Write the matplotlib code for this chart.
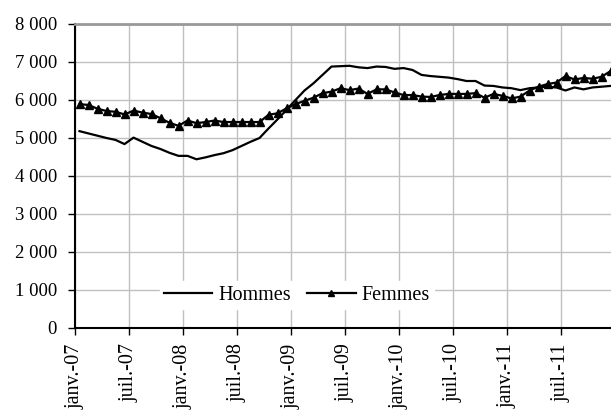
import matplotlib
matplotlib.use("Agg")
import matplotlib.pyplot as plt
from matplotlib.ticker import FuncFormatter

plt.rcParams['font.family'] = ['Liberation Serif', 'DejaVu Serif']

# monthly values, janv.-07 .. déc.-11
hommes = [5180, 5120, 5060, 5000, 4950, 4840, 5010, 4900, 4790, 4710,
          4610, 4530, 4530, 4440, 4490, 4550, 4600, 4680, 4790, 4900,
          5000, 5250, 5490, 5740, 6000, 6250, 6440, 6660, 6880, 6890,
          6900, 6860, 6840, 6880, 6870, 6820, 6840, 6790, 6660, 6630,
          6610, 6590, 6550, 6500, 6500, 6380, 6370, 6330, 6310, 6260,
          6310, 6330, 6350, 6330, 6250, 6330, 6280, 6330, 6350, 6370]
femmes = [5890, 5870, 5770, 5710, 5690, 5620, 5720, 5670, 5630, 5520,
          5400, 5320, 5460, 5390, 5420, 5460, 5420, 5420, 5420, 5420,
          5420, 5610, 5650, 5780, 5890, 5980, 6060, 6180, 6220, 6310,
          6260, 6300, 6160, 6280, 6280, 6200, 6130, 6130, 6090, 6080,
          6130, 6160, 6160, 6160, 6180, 6060, 6160, 6110, 6040, 6090,
          6250, 6350, 6420, 6460, 6630, 6540, 6580, 6560, 6610, 6760]
tick_labels = ['janv.-07', 'juil.-07', 'janv.-08', 'juil.-08', 'janv.-09',
               'juil.-09', 'janv.-10', 'juil.-10', 'janv.-11', 'juil.-11']

fig = plt.figure(figsize=(6.11, 4.18), dpi=100)
ax = fig.add_axes([75 / 611, 1 - 328 / 418, 540 / 611, 304 / 418])

x = [i + 0.5 for i in range(len(hommes))]
ax.plot(x, hommes, color='black', lw=1.6, label='Hommes')
ax.plot(x, femmes, color='black', lw=1.6, marker='^', markersize=5.5,
        label='Femmes')

ax.set_xlim(0, 60)
ax.set_ylim(0, 8000)
ax.set_yticks(range(0, 8001, 1000))
ax.yaxis.set_major_formatter(FuncFormatter(lambda v, p: f'{int(v):,}'.replace(',', ' ')))
ax.set_xticks(range(0, 60, 6))
ax.set_xticklabels(tick_labels, rotation=90, ha='center', va='top')

ax.grid(True, color='#c0c0c0', lw=1)
ax.set_axisbelow(True)
ax.spines['right'].set_visible(False)
ax.spines['top'].set_color('#999999')
ax.spines['top'].set_linewidth(2)
ax.spines['left'].set_linewidth(1.5)
ax.spines['bottom'].set_linewidth(1.5)
ax.tick_params(axis='both', direction='out', length=5, width=1, color='black')
ax.tick_params(axis='y', pad=8, labelsize=13.5)
ax.tick_params(axis='x', pad=6, labelsize=14.5)

leg = ax.legend(loc='center', bbox_to_anchor=(222 / 540, 33 / 304), ncol=2,
                frameon=True, fontsize=14.5, handlelength=2.4, columnspacing=0.8,
                handletextpad=0.3, borderpad=0.2, markerscale=0.8)
leg.get_frame().set_edgecolor('white')
leg.get_frame().set_facecolor('white')
leg.get_frame().set_alpha(1)

fig.savefig('out.png', dpi=100)
